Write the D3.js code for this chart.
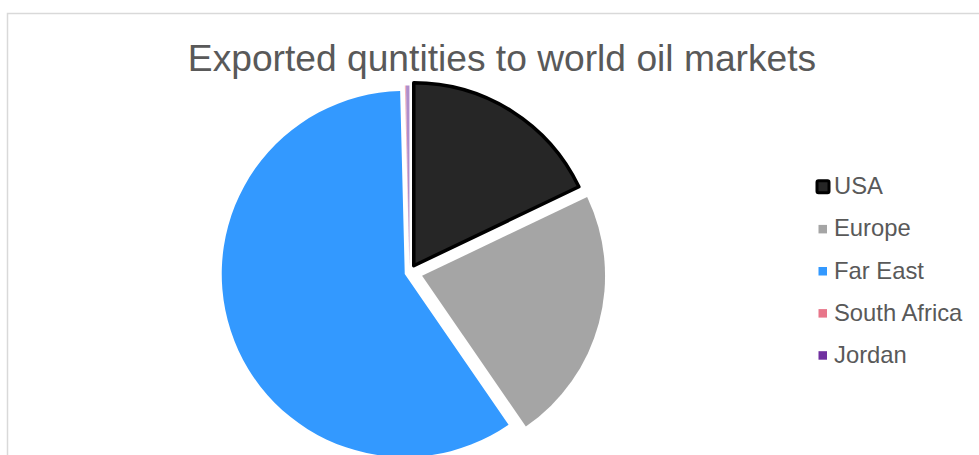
<!DOCTYPE html>
<html>
<head>
<meta charset="utf-8">
<script src="https://cdn.jsdelivr.net/npm/d3@7"></script>
<style>
  html, body { margin: 0; padding: 0; background: #ffffff; }
  svg { display: block; font-family: "Liberation Sans", Arial, sans-serif; }
</style>
</head>
<body>
<svg id="chart" width="979" height="455"></svg>
<script>
// Export destinations and their shares (%)
const markets = ["USA", "Europe", "Far East", "South Africa", "Jordan"];
const shares = [17.9, 22.5, 59.2, 0.1, 0.3];
const sliceColors = ["#262626", "#A5A5A5", "#3399FF", "#E8768A", "#7030A0"];
const chartTitle = "Exported quntities to world oil markets";

// Per-slice pull-out distance (px) for the exploded pie
const explode = [8, 13, 5, 4, 4];

const W = 979, H = 455;
const svg = d3.select("#chart");

// Chart frame
svg.append("rect")
  .attr("x", 7.5).attr("y", 13.5)
  .attr("width", W).attr("height", H)
  .attr("fill", "#ffffff")
  .attr("stroke", "#D9D9D9").attr("stroke-width", 1.5);

// Title
svg.append("text")
  .attr("x", 502).attr("y", 71)
  .attr("text-anchor", "middle")
  .attr("font-size", 37.2)
  .attr("fill", "#595959")
  .text(chartTitle);

const cx = 409.5, cy = 272.5, radius = 183;

const pie = d3.pie().sort(null).startAngle(0).endAngle(2 * Math.PI);
const arcs = pie(shares);
const arc = d3.arc().innerRadius(0).outerRadius(radius);

const g = svg.append("g").attr("transform", `translate(${cx},${cy})`);

// Draw the thin slices first so the outlined USA slice sits on top
const order = [2, 1, 3, 4, 0];
order.forEach(i => {
  const a = arcs[i];
  const mid = (a.startAngle + a.endAngle) / 2;
  const dx = Math.sin(mid) * explode[i];
  const dy = -Math.cos(mid) * explode[i];
  g.append("path")
    .attr("d", arc(a))
    .attr("transform", `translate(${dx},${dy})`)
    .attr("fill", sliceColors[i])
    .attr("fill-opacity", i >= 3 ? 0.55 : 1)
    .attr("stroke", i === 0 ? "#000000" : "none")
    .attr("stroke-width", i === 0 ? 3.5 : 0)
    .attr("stroke-linejoin", "round");
});

// Legend
const legend = svg.append("g");
const rowY = d3.scalePoint().domain(markets).range([194.3, 362.7]);
markets.forEach((m, i) => {
  const base = rowY(m);
  const midY = base - 7.5;
  if (i === 0) {
    legend.append("rect")
      .attr("x", 817).attr("y", midY - 6)
      .attr("width", 12).attr("height", 12)
      .attr("fill", sliceColors[i])
      .attr("stroke", "#000000").attr("stroke-width", 3)
      .attr("rx", 1.5);
  } else {
    legend.append("rect")
      .attr("x", 818.5).attr("y", midY - 4)
      .attr("width", 8.5).attr("height", 8.5)
      .attr("fill", sliceColors[i]);
  }
  legend.append("text")
    .attr("x", 834).attr("y", base)
    .attr("font-size", 23.8)
    .attr("fill", "#595959")
    .text(m);
});
</script>
</body>
</html>
